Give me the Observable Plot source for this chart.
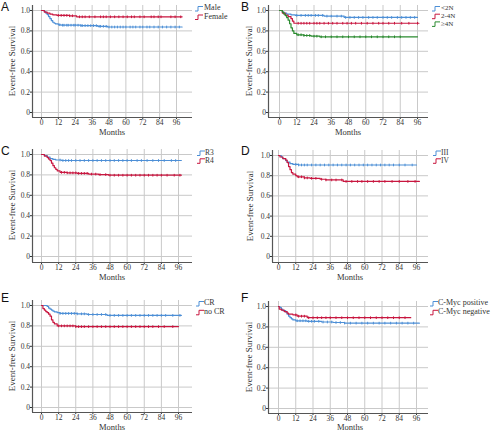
<!DOCTYPE html>
<html>
<head>
<meta charset="utf-8">
<script src="https://cdn.jsdelivr.net/npm/d3@7"></script>
<script src="https://cdn.jsdelivr.net/npm/@observablehq/plot@0.6"></script>
<style>
  html, body { margin: 0; padding: 0; background: #fff; }
  #wrap { position: relative; width: 500px; height: 433px; overflow: hidden; background: #fff; }
  #wrap > svg, #wrap > figure { position: absolute; margin: 0; }
</style>
</head>
<body>
<div id="wrap"></div>
<script>
// ---------- shared ticks ----------
const monthTicks = [0, 12, 24, 36, 48, 60, 72, 84, 96];
const survTicks = [0, 0.2, 0.4, 0.6, 0.8, 1.0];
const panelLetters = ["A", "B", "C", "D", "E", "F"];
const xAxisTitle = "Months";
const yAxisTitle = "Event-free Survival";

// ---------- Panel A: sex ----------
const legendA = ["Male", "Female"];
const maleTimes = [0, 2, 3, 4, 5, 6, 7, 8, 9, 10, 12, 14, 28, 40, 47];
const maleSurv  = [1.0, 0.99, 0.975, 0.96, 0.94, 0.92, 0.90, 0.885, 0.875, 0.868, 0.86, 0.856, 0.852, 0.845, 0.838];
const maleEnd = 100;
const maleCensor = [13,15,16,18,19,21,23,24,26,28,29,31,33,35,37,39,41,42,44,46,48,50,52,54,56,58,60,63,65,67,70,72,75,77,80,83,86,89,92,95,98];
const femaleTimes = [0, 2, 4, 6, 8, 11, 20, 25];
const femaleSurv  = [1.0, 0.985, 0.975, 0.965, 0.958, 0.952, 0.948, 0.938];
const femaleEnd = 100;
const femaleCensor = [12,14,16,18,20,22,27,29,31,34,38,42,44,46,49,52,55,58,61,64,66,70,73,78,80,83,85,92,95,99];

// ---------- Panel B: ploidy ----------
const legendB = ["<2N", "2-4N", "≥4N"];
const lt2nTimes = [0, 2, 3, 5, 8, 11, 31, 45];
const lt2nSurv  = [1.0, 0.985, 0.975, 0.965, 0.958, 0.952, 0.945, 0.932];
const lt2nEnd = 96;
const lt2nCensor = [12,15,18,20,22,25,27,30,33,36,40,43,46,49,52,55,58,62,65,68,72,75,78,82,85,88,91,94];
const mid4nTimes = [0, 2, 4, 6, 8, 9, 10];
const mid4nSurv  = [1.0, 0.975, 0.955, 0.94, 0.92, 0.895, 0.875];
const mid4nEnd = 97;
const mid4nCensor = [13,15,17,19,21,24,26,28,31,34,37,40,44,47,50,53,57,61,65,69,72,76,80,85,90,96];
const ge4nTimes = [0, 2, 3, 4, 5, 6, 7, 8, 9, 10, 12, 17, 22, 28];
const ge4nSurv  = [1.0, 0.985, 0.965, 0.95, 0.93, 0.905, 0.87, 0.83, 0.80, 0.775, 0.762, 0.755, 0.748, 0.742];
const ge4nEnd = 96;
const ge4nCensor = [13,15,17,19,21,24,26,29,32,36,40,44,48,52,56,60,64,68,72,76,80,84];

// ---------- Panel C: risk ----------
const legendC = ["R3", "R4"];
const r3Times = [0, 2, 4, 6, 8, 10, 14];
const r3Surv  = [1.0, 0.99, 0.975, 0.96, 0.952, 0.946, 0.941];
const r3End = 98;
const r3Censor = [13,15,17,19,21,24,27,30,33,36,39,42,45,48,51,54,57,60,63,67,70,74,78,82,86,91,94];
const r4Times = [0, 2, 4, 5, 6, 7, 8, 9, 10, 11, 13, 18, 25, 33, 40, 47];
const r4Surv  = [1.0, 0.985, 0.97, 0.955, 0.94, 0.915, 0.89, 0.87, 0.855, 0.84, 0.825, 0.82, 0.815, 0.808, 0.803, 0.797];
const r4End = 98;
const r4Censor = [14,16,18,20,22,24,26,28,30,32,35,38,41,45,48,51,54,57,60,63,66,69,72,75,78,81,84,88,93,97];

// ---------- Panel D: stage ----------
const legendD = ["III", "IV"];
const stage3Times = [0, 2, 3, 5, 6, 8, 10, 14];
const stage3Surv  = [1.0, 0.985, 0.97, 0.95, 0.935, 0.92, 0.912, 0.906];
const stage3End = 96;
const stage3Censor = [12,14,16,18,20,23,26,29,32,35,38,41,44,47,50,53,56,59,62,65,68,71,74,77,80,84,88,93];
const stage4Times = [0, 1, 3, 5, 6, 7, 8, 9, 10, 12, 13, 18, 22, 29, 33, 45];
const stage4Surv  = [1.0, 0.985, 0.97, 0.955, 0.93, 0.89, 0.86, 0.83, 0.815, 0.80, 0.789, 0.778, 0.774, 0.765, 0.758, 0.743];
const stage4End = 98;
const stage4Censor = [14,16,18,20,23,26,30,33,37,40,44,47,51,55,58,62,66,70,74,79,84,90,95];

// ---------- Panel E: response ----------
const legendE = ["CR", "no CR"];
const crTimes = [0, 4, 5, 6, 7, 8, 9, 11, 13, 25, 32, 46];
const crSurv  = [1.0, 0.99, 0.975, 0.965, 0.955, 0.945, 0.938, 0.93, 0.922, 0.918, 0.912, 0.903];
const crEnd = 98;
const crCensor = [13,15,17,19,21,23,25,28,30,33,36,39,42,45,48,51,54,57,60,63,66,69,72,75,78,81,84,87,92,97];
const nocrTimes = [0, 1, 2, 3, 4, 5, 6, 7, 8, 9, 11, 24];
const nocrSurv  = [1.0, 0.97, 0.955, 0.94, 0.93, 0.915, 0.895, 0.86, 0.835, 0.82, 0.80, 0.793];
const nocrEnd = 96;
const nocrCensor = [12,14,16,18,20,22,24,26,28,30,33,36,39,42,45,48,51,54,57,60,63,66,69,72,75,78,82,86,92];

// ---------- Panel F: C-Myc ----------
const legendF = ["C-Myc positive", "C-Myc negative"];
const mycPosTimes = [0, 1, 2, 3, 5, 6, 7, 8, 9, 10, 12, 20, 30, 38, 46];
const mycPosSurv  = [1.0, 0.99, 0.975, 0.96, 0.945, 0.925, 0.905, 0.89, 0.878, 0.868, 0.86, 0.855, 0.848, 0.843, 0.837];
const mycPosEnd = 98;
const mycPosCensor = [13,15,17,19,21,23,25,28,31,34,37,40,43,46,50,54,58,62,66,70,74,78,82,86,90,94];
const mycNegTimes = [0, 0.5, 2, 4, 6, 7, 10, 13, 20];
const mycNegSurv  = [1.0, 0.975, 0.965, 0.95, 0.935, 0.925, 0.918, 0.905, 0.89];
const mycNegEnd = 92;
const mycNegCensor = [12,14,16,18,21,24,27,30,33,36,40,44,48,52,56,60,64,68,72,76,80,84,88];

// ---------- styles ----------
const BLUE = "#4d8fd6", RED = "#c8163f", GREEN = "#2a8a2f";
const GRID = "#c9c9c9", AXIS = "#555";
const SERIF = "Liberation Serif, Times New Roman, serif";

function curve(times, surv, end, censor, color, name) {
  const pts = times.map((t, i) => ({t, s: surv[i]}));
  pts.push({t: end, s: surv[surv.length - 1]});
  const cens = censor.map(t => {
    const i = Math.max(0, d3.bisectRight(times, t) - 1);
    return {t, s: surv[i]};
  });
  return {pts, cens, color, name};
}

const panels = [
  { letter: panelLetters[0], left: 0, top: 0, W: 250, H: 142,
    pxL: 32, px0: 41, px96: 176, pxR: 192, pyT: 5, py1: 10, py0: 112, pyB: 117,
    ylab: [13, 61], xlab: [112, 133.5], let: [1, 7.5],
    leg: {ix: 195, tx: 204, ys: [8.5, 17], fs: 8},
    series: [curve(maleTimes, maleSurv, maleEnd, maleCensor, BLUE, legendA[0]),
             curve(femaleTimes, femaleSurv, femaleEnd, femaleCensor, RED, legendA[1])] },
  { letter: panelLetters[1], left: 250, top: 0, W: 250, H: 142,
    pxL: 268, px0: 279, px96: 417, pxR: 428, pyT: 5, py1: 10, py0: 112, pyB: 117,
    ylab: [250, 61], xlab: [348, 133.5], let: [241, 7.5],
    leg: {ix: 432, tx: 441, ys: [8.5, 16.2, 23.9], fs: 7},
    series: [curve(lt2nTimes, lt2nSurv, lt2nEnd, lt2nCensor, BLUE, legendB[0]),
             curve(mid4nTimes, mid4nSurv, mid4nEnd, mid4nCensor, RED, legendB[1]),
             curve(ge4nTimes, ge4nSurv, ge4nEnd, ge4nCensor, GREEN, legendB[2])] },
  { letter: panelLetters[2], left: 0, top: 142, W: 250, H: 143,
    pxL: 32, px0: 41, px96: 178, pxR: 192, pyT: 149, py1: 154, py0: 256, pyB: 262,
    ylab: [13, 205], xlab: [112, 278.5], let: [1, 151.5],
    leg: {ix: 197, tx: 205, ys: [153, 160.8], fs: 7.5},
    series: [curve(r3Times, r3Surv, r3End, r3Censor, BLUE, legendC[0]),
             curve(r4Times, r4Surv, r4End, r4Censor, RED, legendC[1])] },
  { letter: panelLetters[3], left: 250, top: 142, W: 250, H: 143,
    pxL: 272, px0: 278, px96: 416, pxR: 428, pyT: 150, py1: 155, py0: 256, pyB: 262,
    ylab: [251, 206], xlab: [350, 278.5], let: [241, 151.5],
    leg: {ix: 433, tx: 441, ys: [153, 160.8], fs: 7.5},
    series: [curve(stage3Times, stage3Surv, stage3End, stage3Censor, BLUE, legendD[0]),
             curve(stage4Times, stage4Surv, stage4End, stage4Censor, RED, legendD[1])] },
  { letter: panelLetters[4], left: 0, top: 285, W: 250, H: 148,
    pxL: 32, px0: 41, px96: 178, pxR: 192, pyT: 300, py1: 305, py0: 407, pyB: 412,
    ylab: [13, 356], xlab: [112, 428.5], let: [1, 299],
    leg: {ix: 196, tx: 204, ys: [303.5, 312.3], fs: 8},
    series: [curve(crTimes, crSurv, crEnd, crCensor, BLUE, legendE[0]),
             curve(nocrTimes, nocrSurv, nocrEnd, nocrCensor, RED, legendE[1])] },
  { letter: panelLetters[5], left: 250, top: 285, W: 250, H: 148,
    pxL: 268, px0: 278, px96: 416, pxR: 428, pyT: 301, py1: 306, py0: 408, pyB: 413,
    ylab: [250, 357], xlab: [350, 428.5], let: [241, 299],
    leg: {ix: 430, tx: 438, ys: [303.5, 312.3], fs: 8},
    series: [curve(mycPosTimes, mycPosSurv, mycPosEnd, mycPosCensor, BLUE, legendF[0]),
             curve(mycNegTimes, mycNegSurv, mycNegEnd, mycNegCensor, RED, legendF[1])] }
];

const wrap = document.getElementById("wrap");

for (const p of panels) {
  const kx = (p.px96 - p.px0) / 96;
  const xDomain = [-(p.px0 - p.pxL) / kx, 96 + (p.pxR - p.px96) / kx];
  const ky = p.py0 - p.py1;
  const yDomain = [-(p.pyB - p.py0) / ky, 1 + (p.py1 - p.pyT) / ky];
  const marks = [
    Plot.ruleX(monthTicks, {stroke: GRID, strokeWidth: 1}),
    Plot.ruleY(survTicks, {stroke: GRID, strokeWidth: 1})
  ];
  for (const s of p.series) {
    marks.push(Plot.line(s.pts, {x: "t", y: "s", curve: "step-after", stroke: s.color, strokeWidth: 1.2}));
    marks.push(Plot.link(s.cens, {x1: "t", x2: "t", y1: d => d.s - 0.013, y2: d => d.s + 0.013, stroke: s.color, strokeWidth: 1}));
  }
  marks.push(Plot.ruleX([xDomain[0]], {stroke: AXIS, strokeWidth: 1.2}));
  marks.push(Plot.ruleY([yDomain[0]], {stroke: AXIS, strokeWidth: 1.2}));

  const chart = Plot.plot({
    width: p.W, height: p.H,
    marginLeft: p.pxL - p.left, marginRight: p.left + p.W - p.pxR,
    marginTop: p.pyT - p.top, marginBottom: p.top + p.H - p.pyB,
    x: {domain: xDomain, ticks: monthTicks, tickSize: 2, tickPadding: 0.5, label: null},
    y: {domain: yDomain, ticks: survTicks, tickSize: 2, tickPadding: 0.5, label: null,
        tickFormat: d => d === 0 ? "0" : d3.format(".1f")(d)},
    style: {fontFamily: SERIF, fontSize: "7.5px", color: "#333", background: "transparent", overflow: "visible"},
    marks
  });
  chart.style.left = p.left + "px";
  chart.style.top = p.top + "px";
  wrap.appendChild(chart);
}

// ---------- overlay text: panel letters, axis titles, legends ----------
const ov = d3.select(wrap).append("svg")
  .attr("width", 500).attr("height", 433)
  .style("left", "0px").style("top", "0px").style("pointer-events", "none");

for (const p of panels) {
  ov.append("text").attr("x", p.let[0]).attr("y", p.let[1])
    .attr("dominant-baseline", "middle")
    .style("font-family", "Liberation Sans, Arial, sans-serif").style("font-size", "12px")
    .attr("fill", "#111").text(p.letter);
  ov.append("text").attr("transform", `translate(${p.ylab[0]},${p.ylab[1]}) rotate(-90)`)
    .attr("text-anchor", "middle").attr("dominant-baseline", "middle")
    .style("font-family", SERIF).style("font-size", "9px").attr("fill", "#333")
    .text(yAxisTitle);
  ov.append("text").attr("x", p.xlab[0]).attr("y", p.xlab[1])
    .attr("text-anchor", "middle").attr("dominant-baseline", "middle")
    .style("font-family", SERIF).style("font-size", "8.5px").attr("fill", "#333")
    .text(xAxisTitle);
  p.series.forEach((s, i) => {
    const y = p.leg.ys[i];
    ov.append("path")
      .attr("d", `M${p.leg.ix},${y + 2.5} h3 v-4.5 h5`)
      .attr("fill", "none").attr("stroke", s.color).attr("stroke-width", 1);
    ov.append("text").attr("x", p.leg.tx).attr("y", y)
      .attr("dominant-baseline", "middle")
      .style("font-family", SERIF).style("font-size", p.leg.fs + "px").attr("fill", "#333")
      .text(s.name);
  });
}
</script>
</body>
</html>
